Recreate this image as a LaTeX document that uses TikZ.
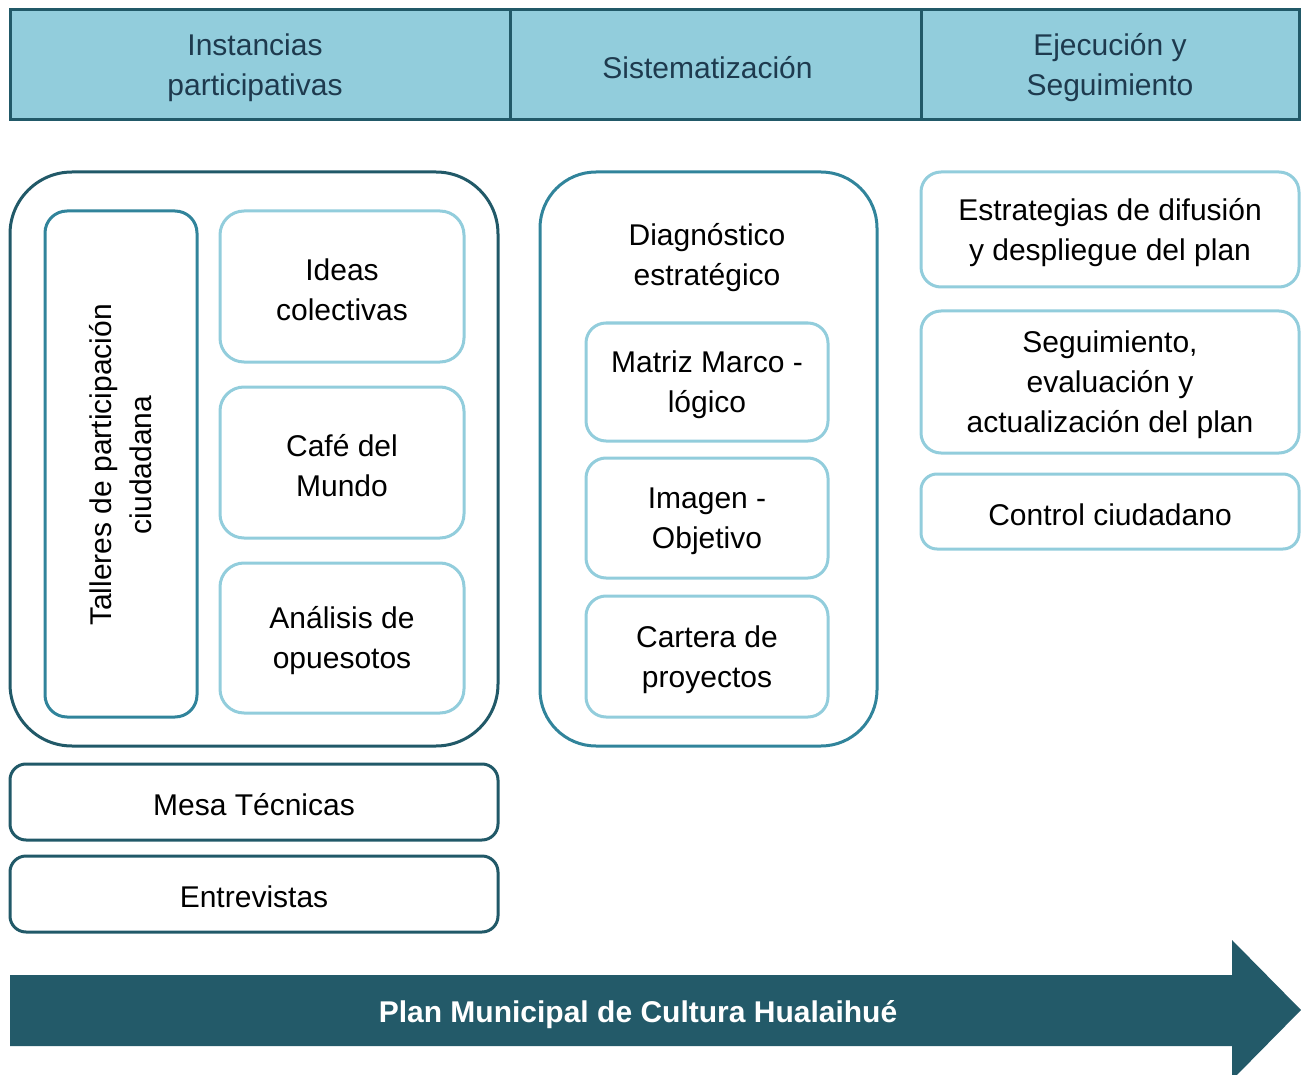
\documentclass[tikz,border=0pt]{standalone}
\usepackage{fontspec}
\setmainfont{Liberation Sans}
\definecolor{hdrfill}{HTML}{92CDDC}
\definecolor{darkteal}{HTML}{215968}
\definecolor{midteal}{HTML}{31849B}
\definecolor{lightteal}{HTML}{92CDDC}
\definecolor{hdrtext}{HTML}{1E3A4E}
\definecolor{arrowfill}{HTML}{235A69}
\newcommand{\bx}[6]{\node[#1, minimum width=#4, minimum height=#5] (#2) at (#3) {};
  \node[txt, yshift=-3pt] (#2-t) at (#2.center) {#6};}
\begin{document}
\begin{tikzpicture}[x=1pt,y=-1pt,
  txt/.style={font=\fontsize{30}{40}\selectfont, align=center, text=black},
  hdr/.style={draw=darkteal, fill=hdrfill, line width=3pt, inner sep=0pt},
  hdrtxt/.style={font=\fontsize{30}{40}\selectfont, align=center, text=hdrtext, yshift=-3pt},
  box/.style={line width=3pt, inner sep=0pt},
  lightbox/.style={box, draw=lightteal, rounded corners=24pt},
  midbox/.style={box, draw=midteal},
  darkbox/.style={box, draw=darkteal}
]
\useasboundingbox (0,0) rectangle (1301,1075);
% headers
\node[hdr, minimum width=500pt, minimum height=110pt] (h1) at (260,65) {};
\node[hdrtxt, xshift=-5pt] (h1-t) at (h1.center) {Instancias\\participativas};
\node[hdr, minimum width=411pt, minimum height=110pt] (h2) at (715.5,65) {};
\node[hdrtxt, xshift=-8pt] (h2-t) at (h2.center) {Sistematización};
\node[hdr, minimum width=378pt, minimum height=110pt] (h3) at (1110,65) {};
\node[hdrtxt] (h3-t) at (h3.center) {Ejecución y\\Seguimiento};
% left group
\node[darkbox, rounded corners=62pt, minimum width=488pt, minimum height=574pt] (lout) at (254,459) {};
\node[midbox, rounded corners=22pt, minimum width=152pt, minimum height=506pt] (tall) at (121,464) {};
\node[txt, rotate=90, xshift=-1pt] (talltxt) at (tall.center) {Talleres de participación\\ciudadana};
\bx{lightbox}{ideas}{342,286.5}{244pt}{151pt}{Ideas\\colectivas}
\bx{lightbox}{cafe}{342,462.5}{244pt}{151pt}{Café del\\Mundo}
\bx{lightbox}{anal}{342,638}{244pt}{150pt}{Análisis de\\opuesotos}
\bx{darkbox, rounded corners=16pt}{mesa}{254,802}{488pt}{76pt}{Mesa Técnicas}
\bx{darkbox, rounded corners=16pt}{entr}{254,894}{488pt}{76pt}{Entrevistas}
% middle group
\node[midbox, rounded corners=56pt, minimum width=337pt, minimum height=574pt] (mout) at (708.5,459) {};
\node[txt] (diag) at (707,258) {Diagnóstico\\estratégico};
\bx{lightbox, rounded corners=20pt}{matriz}{707,382}{242pt}{118pt}{Matriz Marco -\\lógico}
\bx{lightbox, rounded corners=20pt}{imagen}{707,518}{242pt}{120pt}{Imagen -\\Objetivo}
\bx{lightbox, rounded corners=20pt}{cartera}{707,656.5}{242pt}{121pt}{Cartera de\\proyectos}
% right group
\bx{lightbox, rounded corners=20pt}{estr}{1110,229.5}{378pt}{115pt}{Estrategias de difusión\\y despliegue del plan}
\bx{lightbox, rounded corners=20pt}{segu}{1110,382}{378pt}{142pt}{Seguimiento,\\evaluación y\\actualización del plan}
\bx{lightbox, rounded corners=16pt}{ctrl}{1110,511.5}{378pt}{75pt}{Control ciudadano}
% arrow
\fill[arrowfill] (10,975) -- (1232,975) -- (1232,940) -- (1301,1010) -- (1232,1080) -- (1232,1046) -- (10,1046) -- cycle;
\node[font=\fontsize{30}{36}\bfseries\selectfont, text=white] (plan) at (638,1015) {Plan Municipal de Cultura Hualaihué};
\end{tikzpicture}
\end{document}
